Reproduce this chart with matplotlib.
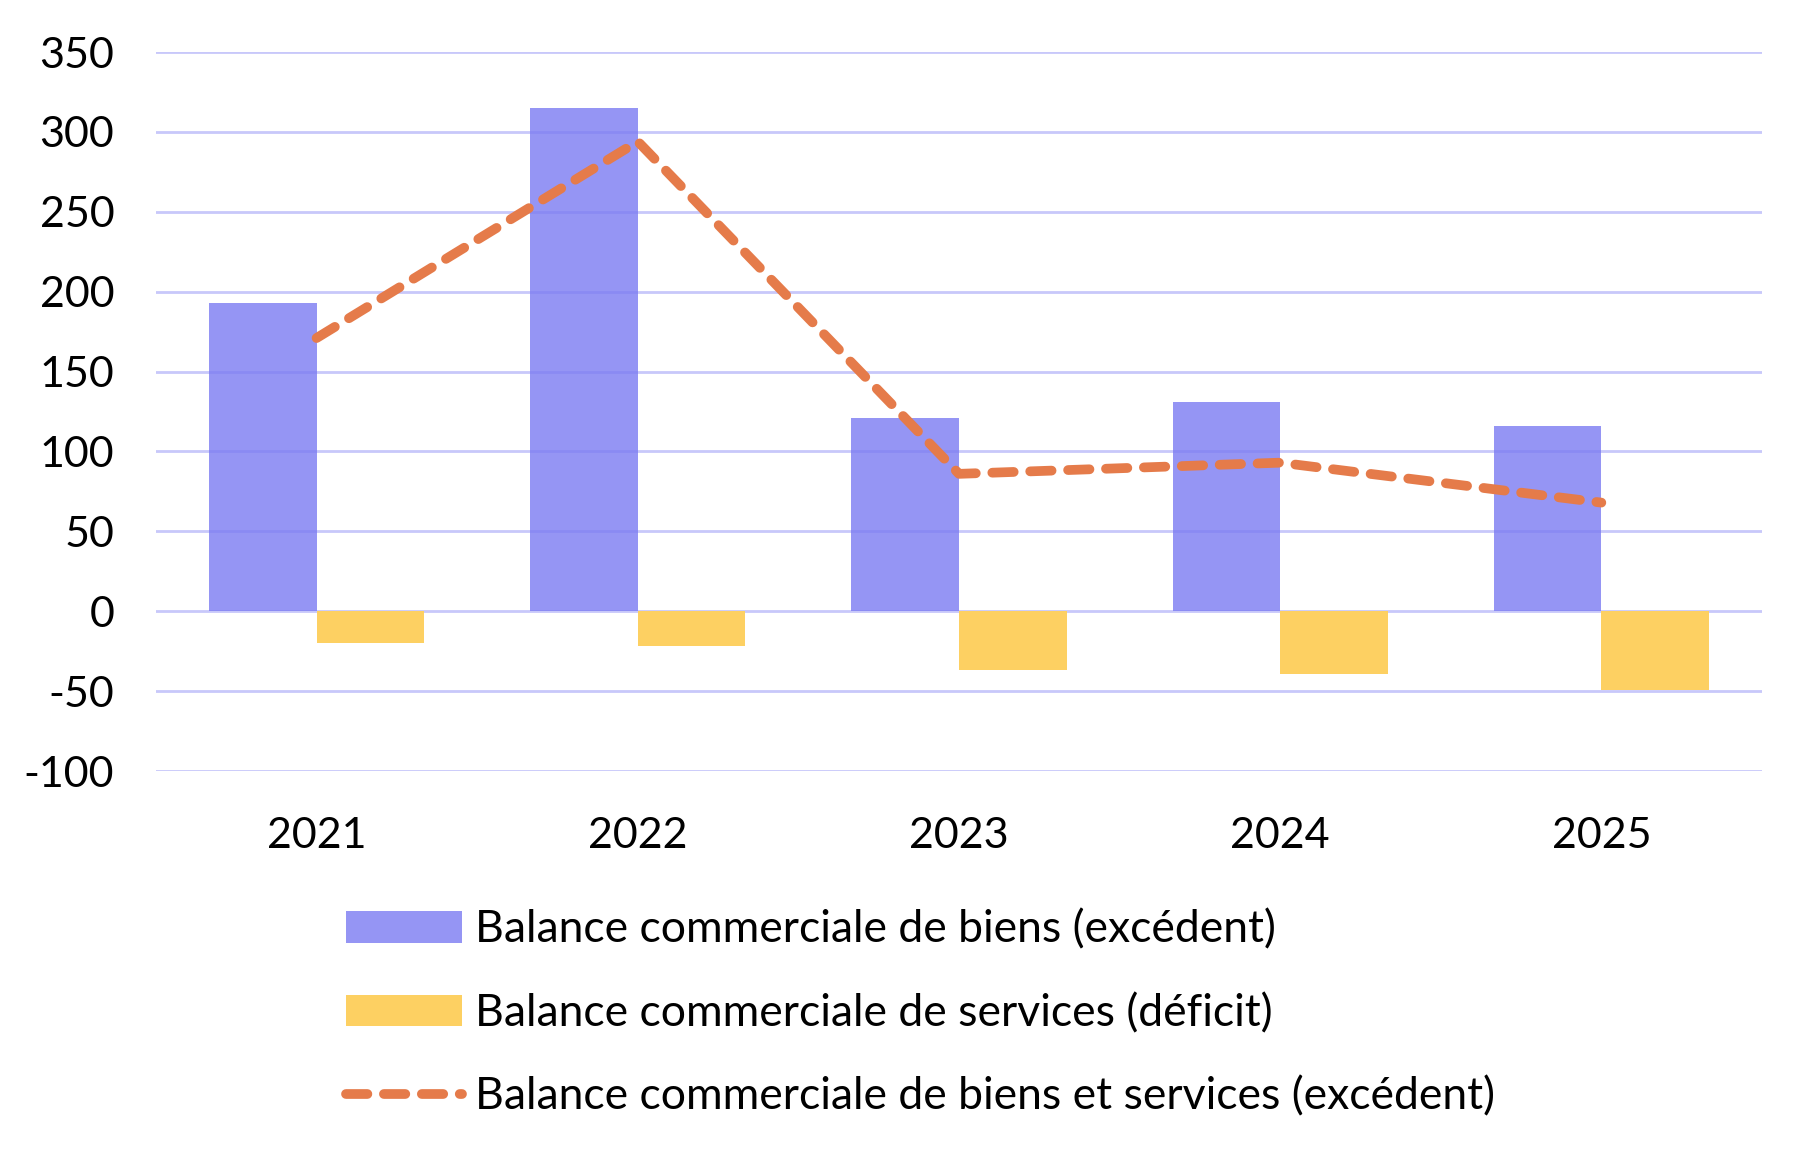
import numpy as np
import matplotlib
matplotlib.use("Agg")
import matplotlib.pyplot as plt

plt.rcParams['font.family'] = ['Lato', 'DejaVu Sans']
plt.rcParams['axes.unicode_minus'] = False

# --- données (Md€) ---
years = ["2021", "2022", "2023", "2024", "2025"]
biens = [193, 315, 121, 131, 116]
services = [-20, -22, -37, -39, -49]
total = [171, 294, 86, 93, 68]

lbl_biens = "Balance commerciale de biens (excédent)"
lbl_services = "Balance commerciale de services (déficit)"
lbl_total = "Balance commerciale de biens et services (excédent)"

c_biens = '#7B7BF2'
c_services = '#FDD062'
c_total = '#E57B4A'
c_grid = '#C8C8FA'

fig = plt.figure(figsize=(18.14, 11.64), dpi=100)
ax = fig.add_axes([0.086, 0.3376, 0.8853, 0.6177])

x = np.arange(len(years))
w = 0.335

h_b = ax.bar(x - w, biens, width=w, align='edge', color=c_biens, alpha=0.8,
             label=lbl_biens, zorder=3)
h_s = ax.bar(x, services, width=w, align='edge', color=c_services,
             label=lbl_services, zorder=3)
h_t, = ax.plot(x, total, color=c_total, lw=7, dashes=(2.2, 1.7),
               dash_capstyle='round', label=lbl_total, zorder=4)

ax.set_xlim(-0.5, len(years) - 0.5)
ax.set_ylim(-100, 350)
ax.set_yticks(np.arange(-100, 351, 50))
ax.set_xticks(x)
ax.set_xticklabels(years)
ax.grid(axis='y', color=c_grid, lw=2, zorder=0)
ax.set_axisbelow(True)
for s in ax.spines.values():
    s.set_visible(False)
ax.tick_params(length=0, labelsize=31, colors='black')
ax.tick_params(axis='y', pad=30)
ax.tick_params(axis='x', pad=33)

fig.legend([h_b, h_s, h_t], [lbl_biens, lbl_services, lbl_total],
           loc='upper left', bbox_to_anchor=(0.181, 0.234), frameon=False,
           fontsize=32, handlelength=2.6, handletextpad=0.3,
           labelspacing=0.95, borderaxespad=0)

fig.savefig('out.png', dpi=100)
